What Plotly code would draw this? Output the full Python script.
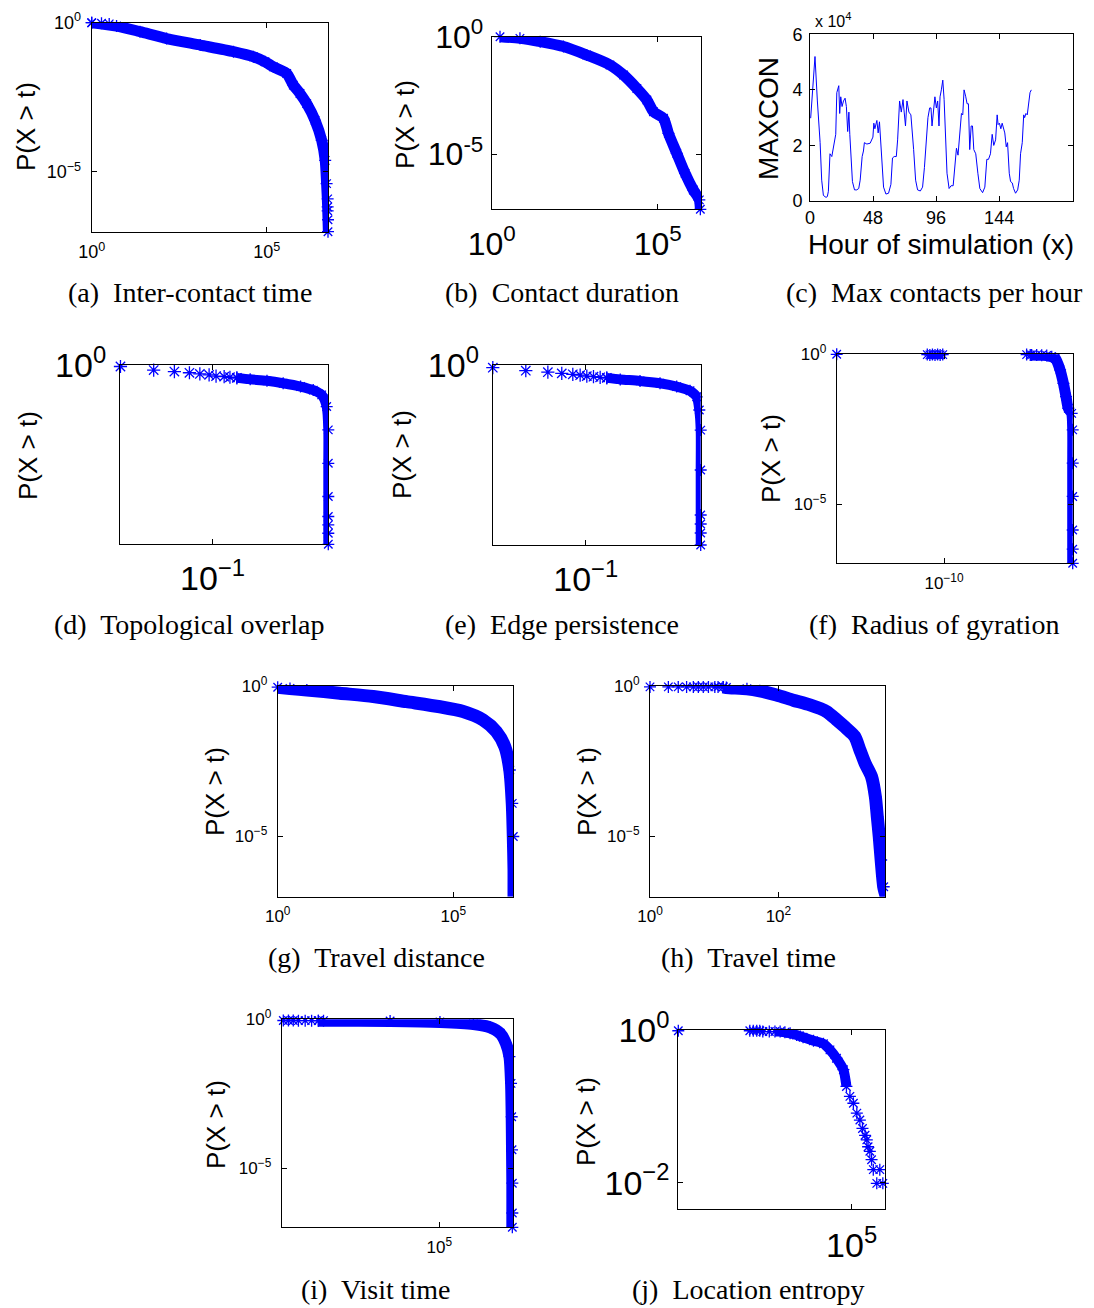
import numpy as np
import plotly.graph_objects as go

W, H = 1094, 1308
BLUE = "#0000ff"

# ---------------- data (log10 exponents) ----------------
# (a) Inter-contact time
a_x_exp = [0, 0.71, 1.38, 2.14, 3.10, 4.05, 4.62, 4.95, 5.19, 5.57, 5.76, 5.95, 6.14, 6.38, 6.57, 6.67, 6.71, 6.74, 6.76]
a_y_exp = [0, -0.11, -0.30, -0.53, -0.75, -0.97, -1.14, -1.31, -1.48, -1.70, -2.09, -2.37, -2.71, -3.27, -3.94, -4.61, -5.39, -6.17, -7.0]
a_s_x_exp = [0, 0.28, 0.5, 6.74, 6.74, 6.75, 6.75]
a_s_y_exp = [0, -0.02, -0.04, -5.9, -6.3, -6.6, -7.0]

# (b) Contact duration
b_x_exp = [0.25, 0.85, 1.46, 2.16, 2.86, 3.56, 3.97, 4.37, 4.67, 4.87, 5.17, 5.32, 5.57, 5.82, 6.07, 6.25, 6.28]
b_y_exp = [0, -0.07, -0.21, -0.42, -0.78, -1.20, -1.63, -2.20, -2.69, -3.19, -3.47, -4.11, -4.96, -5.81, -6.52, -6.94, -7.34]

# (c) Max contacts per hour
c_hour = [0.5, 3.8, 5.6, 7.7, 8.9, 10.2, 12.2, 13.2, 14.0, 14.7, 15.2, 16.6, 17.3, 18.6, 19.6, 20.4, 21.9, 22.6, 23.4, 24.4,
          25.5, 26.7, 27.7, 28.7, 29.6, 30.3, 31.3, 32.3, 33.9, 35.6, 37.1, 38.2, 39.7, 40.7, 41.4, 43.3, 45.8, 47.9, 48.6, 49.4,
          50.9, 51.9, 52.9, 53.7, 54.7, 56.0, 57.8, 59.8, 61.6, 62.8, 64.1, 65.7, 66.7, 68.2, 69.5, 70.8, 71.7, 72.7, 73.8, 75.3,
          76.8, 77.8, 78.9, 80.4, 81.9, 84.0, 85.7, 87.1, 88.6, 89.8, 91.1, 92.1, 92.9, 94.1, 95.1, 96.2, 97.2, 98.2, 99.0, 100.0,
          101.1, 102.1, 103.3, 104.3, 105.9, 107.4, 109.0, 110.2, 111.5, 112.7, 114.0, 115.3, 116.3, 117.3, 118.6, 119.6, 120.6,
          121.6, 122.7, 123.7, 124.7, 126.2, 127.8, 129.3, 131.4, 133.1, 134.6, 135.9, 137.4, 138.7, 139.9, 141.3, 142.5, 143.2,
          144.2, 145.3, 146.3, 147.3, 148.3, 149.4, 150.4, 151.7, 152.7, 154.0, 155.0, 156.5, 158.1, 159.3, 160.3, 161.6, 162.7,
          163.4, 164.4, 165.4, 166.4, 167.5, 168.5]
c_maxcon = [2.98, 5.2, 3.6, 2.1, 0.75, 0.2, 0.13, 0.16, 0.35, 1.1, 1.7, 1.6, 1.78, 2.2, 2.4, 3.9, 4.15, 3.15, 3.75, 3.4,
            3.6, 3.7, 3.4, 2.5, 3.2, 2.4, 1.5, 0.7, 0.4, 0.4, 0.45, 0.75, 1.6, 1.8, 2.1, 2.05, 2.08, 2.3, 2.8, 2.6,
            2.9, 2.45, 2.85, 2.2, 1.25, 0.5, 0.25, 0.28, 0.6, 1.55, 1.6, 1.6, 2.2, 3.6, 3.2, 3.65, 3.2, 2.7, 3.6, 3.2,
            3.1, 2.6, 1.85, 0.75, 0.4, 0.36, 0.5, 1.2, 2.45, 3.0, 3.35, 3.35, 2.7, 3.35, 3.75, 3.35, 3.6, 2.7, 3.75, 4.0,
            4.35, 3.65, 1.95, 1.0, 0.45, 0.55, 0.55, 1.25, 1.9, 1.65, 2.5, 3.15, 3.1, 4.0, 3.75, 3.5, 3.5,
            1.85, 2.7, 2.7, 1.85, 1.7, 1.0, 0.45, 0.3, 0.5, 1.5, 1.5, 1.7, 2.4, 2.0, 2.2, 3.1, 2.75,
            2.8, 2.6, 2.8, 2.6, 2.45, 1.95, 2.1, 1.0, 0.7, 0.65, 0.45, 0.28, 0.4, 0.75, 1.7, 2.1, 3.1,
            3.0, 3.15, 3.1, 3.5, 3.9, 4.0]

# (d) Topological overlap
d_sp_x_exp = [-1.796, -1.509, -1.33, -1.20, -1.11, -1.03, -0.97, -0.90, -0.85, -0.79]
d_sp_y_exp = [-0.05, -0.17, -0.22, -0.26, -0.30, -0.33, -0.37, -0.39, -0.41, -0.43]
d_x_exp = [-0.79, -0.675, -0.53, -0.39, -0.24, -0.13, -0.057, -0.014, 0, 0, 0, 0, 0, 0, 0]
d_y_exp = [-0.43, -0.48, -0.53, -0.61, -0.72, -0.84, -1.0, -1.39, -2.17, -3.29, -4.4, -5.07, -5.35, -5.63, -6.0]

# (e) Edge persistence
e_sp_x_exp = [-1.809, -1.522, -1.33, -1.209, -1.113, -1.049, -0.991, -0.933, -0.875, -0.817]
e_sp_y_exp = [-0.09, -0.19, -0.24, -0.28, -0.31, -0.34, -0.37, -0.39, -0.41, -0.43]
e_x_exp = [-0.817, -0.70, -0.528, -0.354, -0.209, -0.093, -0.035, -0.012, 0, 0, 0, 0, 0, 0]
e_y_exp = [-0.43, -0.48, -0.53, -0.61, -0.72, -0.86, -1.06, -1.5, -2.17, -3.5, -5.0, -5.3, -5.6, -6.0]

# (f) Radius of gyration
f_sp_x_exp = [-18.34, -11.3, -11.1, -10.9, -10.7, -10.5, -10.3, -10.1, -3.58, -3.19, -2.8]
f_sp_y_exp = [0, -0.01, -0.02, -0.01, -0.02, -0.01, -0.02, -0.01, -0.01, -0.02, -0.02]
f_cl_x_exp = [-11.3, -10.1]
f_cl_y_exp = [-0.01, -0.01]
f_x_exp = [-3.3, -2.41, -2.02, -1.63, -1.37, -0.98, -0.72, -0.52, -0.34, -0.08, 0, 0, 0, 0, 0, 0]
f_y_exp = [-0.02, -0.03, -0.04, -0.08, -0.13, -0.52, -0.97, -1.41, -1.8, -1.97, -2.52, -3.63, -4.74, -5.86, -6.5, -6.97]

# (g) Travel distance
g_x_exp = [0, 0.35, 0.83, 1.77, 2.72, 3.67, 4.62, 5.28, 5.85, 6.23, 6.47, 6.61, 6.68, 6.71, 6.73, 6.73, 6.73]
g_y_exp = [-0.04, -0.08, -0.13, -0.24, -0.35, -0.52, -0.69, -0.85, -1.13, -1.52, -2.02, -2.79, -3.9, -5.0, -6.11, -6.6, -7.0]

# (h) Travel time
h_sp_x_exp = [0, 0.286, 0.44, 0.57, 0.675, 0.753, 0.83, 0.91, 1.01, 1.06, 1.14]
h_sp_y_exp = [-0.03, -0.03, -0.03, -0.03, -0.03, -0.03, -0.03, -0.03, -0.03, -0.03, -0.03]
h_x_exp = [1.14, 1.19, 1.51, 1.71, 1.97, 2.23, 2.49, 2.75, 2.91, 3.06, 3.19, 3.27, 3.35, 3.45, 3.51, 3.54, 3.57, 3.6, 3.64, 3.68]
h_y_exp = [-0.03, -0.05, -0.09, -0.16, -0.30, -0.47, -0.63, -0.85, -1.13, -1.41, -1.68, -2.13, -2.57, -3.01, -3.68, -4.34, -5.0, -5.78, -6.67, -7.0]

# (i) Visit time
i_sp_x_exp = [0.0, 0.15, 0.31, 0.46, 0.62, 0.83, 1.03, 1.24]
i_sp_y_exp = [-0.04, -0.04, -0.04, -0.04, -0.045, -0.045, -0.045, -0.045]
i_x_exp = [1.24, 1.4, 3.47, 5.02, 6.06, 6.58, 6.89, 7.07, 7.18, 7.23, 7.25, 7.26, 7.27, 7.27, 7.27]
i_y_exp = [-0.045, -0.045, -0.056, -0.09, -0.16, -0.27, -0.47, -0.81, -1.25, -2.15, -3.27, -4.38, -5.5, -6.5, -6.98]

# (j) Location entropy
j_sp_x_exp = [1, 2.65, 2.73, 2.81, 2.88, 2.95, 3.1]
j_sp_y_exp = [-0.01, -0.01, -0.01, -0.01, -0.01, -0.02, -0.02]
j_x_exp = [3.23, 3.35, 3.46, 3.58, 3.73, 3.88, 4.12, 4.35, 4.5, 4.65, 4.81, 4.88]
j_y_exp = [-0.02, -0.02, -0.03, -0.044, -0.066, -0.096, -0.14, -0.18, -0.26, -0.37, -0.52, -0.74]
j_t_x_exp = [4.96, 5.04, 5.12, 5.19, 5.25, 5.31, 5.35, 5.38, 5.42, 5.46, 5.5, 5.65, 5.58, 5.72, 5.79]
j_t_y_exp = [-0.87, -0.96, -1.09, -1.18, -1.29, -1.38, -1.44, -1.53, -1.59, -1.70, -1.83, -1.83, -2.01, -2.01, -2.34]

captions = ["(a)\u00a0 Inter-contact time", "(b)\u00a0 Contact duration", "(c)\u00a0 Max contacts per hour",
            "(d)\u00a0 Topological overlap", "(e)\u00a0 Edge persistence", "(f)\u00a0 Radius of gyration",
            "(g)\u00a0 Travel distance", "(h)\u00a0 Travel time", "(i)\u00a0 Visit time", "(j)\u00a0 Location entropy"]

# ---------------- layout helpers ----------------
fig = go.Figure()


def pw(e):
    return 10 ** np.array(e, dtype=float)


def band(i, xe, ye, width=11):
    fig.add_trace(go.Scatter(x=pw(xe), y=pw(ye), mode="lines",
                             line=dict(color=BLUE, width=width, shape="spline", smoothing=0.7),
                             xaxis=f"x{i}", yaxis=f"y{i}", hoverinfo="skip", showlegend=False))


def stars(i, xe, ye, size=10):
    fig.add_trace(go.Scatter(x=pw(xe), y=pw(ye), mode="markers", cliponaxis=False,
                             marker=dict(symbol="asterisk-open", size=size, color=BLUE,
                                         line=dict(color=BLUE, width=1.3)),
                             xaxis=f"x{i}", yaxis=f"y{i}", hoverinfo="skip", showlegend=False))


def sup(e):
    return f"10<sup>{e}</sup>"


axes = {}


def make_axes(i, box, xtype, xrange, ytype, yrange, xt, yt, fs, xso=4, yso=6):
    L, R, T, B = box
    common = dict(showline=True, linecolor="black", linewidth=1, mirror="ticks", ticks="inside",
                  ticklen=5, tickwidth=1, tickcolor="black", showgrid=False, zeroline=False,
                  automargin=False,
                  tickfont=dict(family="Liberation Sans", size=fs, color="black"))
    xn = "xaxis" if i == 1 else f"xaxis{i}"
    yn = "yaxis" if i == 1 else f"yaxis{i}"
    axes[xn] = dict(common, type=xtype, range=xrange, domain=[L / W, R / W], anchor=f"y{i}",
                    tickvals=xt[0], ticktext=xt[1], ticklabelstandoff=xso)
    axes[yn] = dict(common, type=ytype, range=yrange, domain=[1 - B / H, 1 - T / H], anchor=f"x{i}",
                    tickvals=yt[0], ticktext=yt[1], ticklabelstandoff=yso)


# (a)
make_axes(1, (91.7, 328, 22.7, 231.7), "log", [0, 6.75], "log", [-7.0, 0],
          ([1, 1e5], [sup(0), sup(5)]), ([1, 1e-5], [sup(0), sup("−5")]), 18)
band(1, a_x_exp, a_y_exp)
stars(1, a_x_exp + a_s_x_exp, a_y_exp + a_s_y_exp)

# (b)
make_axes(2, (491.7, 701, 36.7, 209.3), "log", [0, 6.3], "log", [-7.34, 0],
          ([1, 1e5], [sup(0), sup(5)]), ([1, 1e-5], [sup(0), sup("-5")]), 32, 6, 1)
band(2, b_x_exp, b_y_exp)
stars(2, b_x_exp, b_y_exp)

# (c)
make_axes(3, (810, 1072.7, 34.3, 201), "linear", [0, 200], "linear", [0, 6],
          ([0, 48, 96, 144], ["0", "48", "96", "144"]), ([0, 2, 4, 6], ["0", "2", "4", "6"]), 18, 0, 3)
fig.add_trace(go.Scatter(x=c_hour, y=c_maxcon, mode="lines", line=dict(color=BLUE, width=1),
                         xaxis="x3", yaxis="y3", hoverinfo="skip", showlegend=False))

# (d)
make_axes(4, (120, 328.3, 365, 544.3), "log", [-1.8, 0], "log", [-6, 0],
          ([0.1], [sup("−1")]), ([1], [sup(0)]), 34, 4, 6)
stars(4, d_sp_x_exp, d_sp_y_exp, 11)
band(4, d_x_exp, d_y_exp, 10)
stars(4, d_x_exp, d_y_exp)

# (e)
make_axes(5, (492.7, 700.7, 365, 545), "log", [-1.81, 0], "log", [-6, 0],
          ([0.1], [sup("−1")]), ([1], [sup(0)]), 34, 4, 6)
stars(5, e_sp_x_exp, e_sp_y_exp, 11)
band(5, e_x_exp, e_y_exp, 10)
stars(5, e_x_exp, e_y_exp)

# (f)
make_axes(6, (836.7, 1072.7, 354.3, 563.3), "log", [-18.34, 0], "log", [-6.97, 0],
          ([1e-10], [sup("−10")]), ([1, 1e-5], [sup(0), sup("−5")]), 17)
stars(6, f_sp_x_exp, f_sp_y_exp)
band(6, f_cl_x_exp, f_cl_y_exp, 9)
band(6, f_x_exp, f_y_exp, 11)
stars(6, f_x_exp, f_y_exp)

# (g)
make_axes(7, (277.7, 513.3, 686, 896.7), "log", [0, 6.71], "log", [-7.0, 0],
          ([1, 1e5], [sup(0), sup(5)]), ([1, 1e-5], [sup(0), sup("−5")]), 17)
band(7, g_x_exp, g_y_exp, 13)
stars(7, g_x_exp, g_y_exp)

# (h)
make_axes(8, (650, 885, 686, 896.7), "log", [0, 3.66], "log", [-7.0, 0],
          ([1, 100], [sup(0), sup(2)]), ([1, 1e-5], [sup(0), sup("−5")]), 17)
stars(8, h_sp_x_exp, h_sp_y_exp)
band(8, h_x_exp, h_y_exp, 13)
stars(8, h_x_exp, h_y_exp)

# (i)
make_axes(9, (281.7, 513.3, 1019.3, 1227.3), "log", [0.1, 7.3], "log", [-6.98, 0],
          ([1e5], [sup(5)]), ([1, 1e-5], [sup(0), sup("−5")]), 17)
stars(9, i_sp_x_exp, i_sp_y_exp)
band(9, i_x_exp, i_y_exp, 12)
stars(9, i_x_exp, i_y_exp)

# (j)
make_axes(10, (678.3, 885, 1030, 1209.3), "log", [1, 5.77], "log", [-2.35, 0],
          ([1e5], [sup(5)]), ([1, 1e-2], [sup(0), sup("−2")]), 34, 6, 1)
stars(10, j_sp_x_exp, j_sp_y_exp)
band(10, j_x_exp, j_y_exp, 10)
stars(10, j_x_exp, j_y_exp)
stars(10, j_t_x_exp, j_t_y_exp)

# ---------------- annotations ----------------
ann = []


def text(px, py, s, size, family="Liberation Sans", angle=0):
    ann.append(dict(x=px / W, y=1 - py / H, xref="paper", yref="paper", text=s, showarrow=False,
                    textangle=angle, xanchor="center", yanchor="middle",
                    font=dict(family=family, size=size, color="black")))


ytitles = [(26, 127), (405, 125), None, (28, 456), (402, 455), (771, 459), (215, 792), (587, 792), (216, 1125), (586, 1122)]
for pos in ytitles:
    if pos:
        text(pos[0], pos[1], "P(X > t)", 26, angle=-90)
text(768, 119, "MAXCON", 28, angle=-90)
text(941, 244, "Hour of simulation (x)", 28)
text(833, 20, "x 10<sup>4</sup>", 16)

cap_pos = [(190, 292), (562, 292), (934, 292), (189, 624), (562, 624), (934, 624),
           (376, 957), (748, 957), (375, 1289), (748, 1289)]
for (cx, cy), s in zip(cap_pos, captions):
    text(cx, cy, s, 28, family="Liberation Serif")

fig.update_layout(width=W, height=H, margin=dict(l=0, r=0, t=0, b=0), paper_bgcolor="white",
                  plot_bgcolor="white", showlegend=False, annotations=ann,
                  font=dict(family="Liberation Sans", color="black"), **axes)

fig.write_html("out.html")
